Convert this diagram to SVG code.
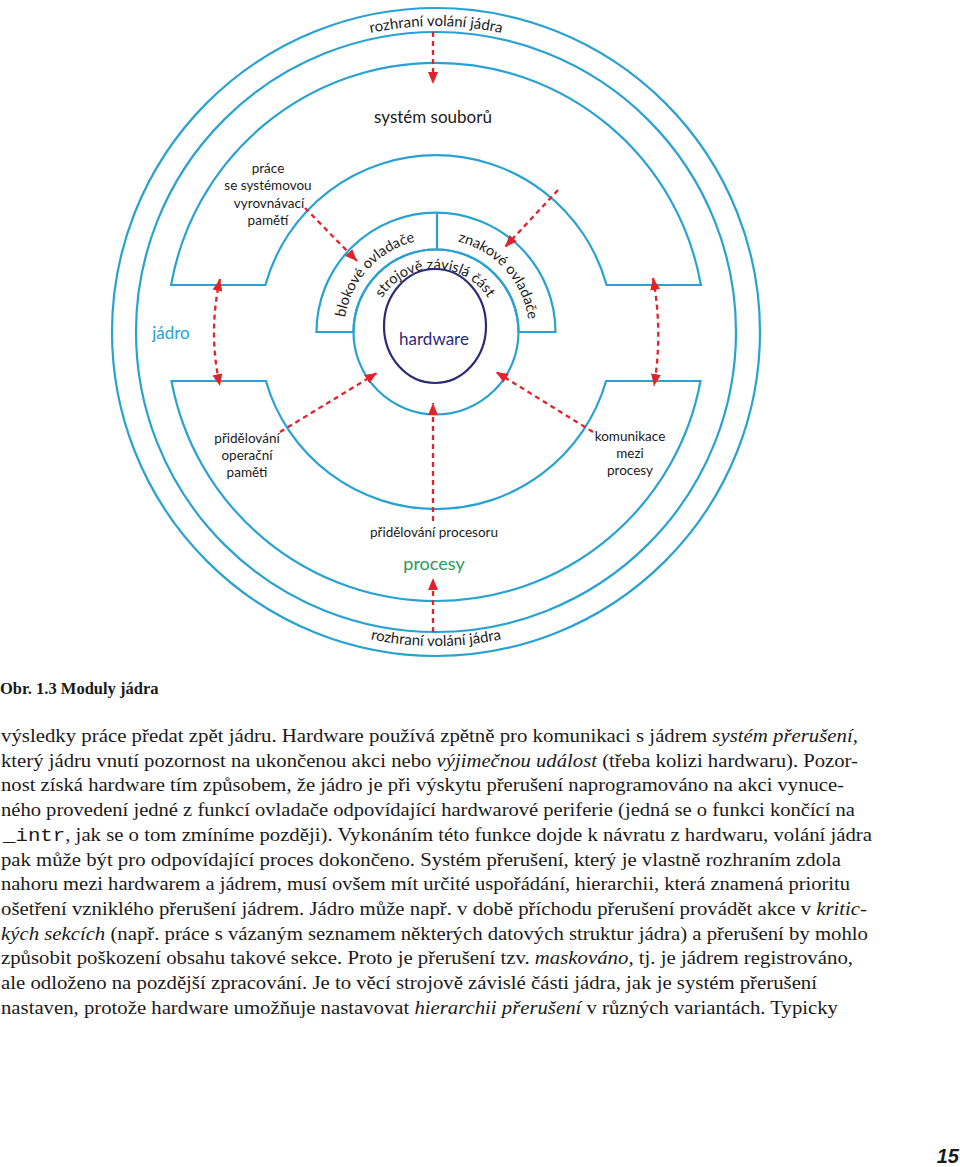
<svg xmlns="http://www.w3.org/2000/svg" width="960" height="1167" viewBox="0 0 960 1167">
<style>
.ring{fill:none;stroke:#27a2d3;stroke-width:2.2}
.lbl{font-family:Lato,"Open Sans","DejaVu Sans",sans-serif;fill:#1a1a1a;text-anchor:middle}
.sm{font-size:13.5px}
.arr{fill:none;stroke:#e3232c;stroke-width:2.3;stroke-dasharray:5 4;marker-end:url(#ah)}
.dbl{marker-start:url(#ah)}
.body{font-family:"Liberation Serif","Times New Roman",serif;font-size:19px;fill:#1a1a1a}
.it{font-style:italic}
.mono{font-family:"Liberation Mono","Courier New",monospace}
</style>
<defs>
<marker id="ah" viewBox="0 0 12 10" refX="12" refY="5" markerWidth="12" markerHeight="10" orient="auto-start-reverse" markerUnits="userSpaceOnUse">
<path d="M0,0 L12,5 L0,10 z" fill="#e3232c"/>
</marker>
<path id="pTop" d="M283,67 A306,306 0 0 1 589,67"/>
<path id="pBot" d="M279,604 A314,314 0 0 0 593,604"/>
<path id="pBlok" d="M344,332 A93,93 0 0 1 429.6,239.2"/>
<path id="pZnak" d="M445.6,239.5 A93,93 0 0 1 529,332"/>
<path id="pStroj" d="M372,332 A63,63 0 0 1 498,332"/>
</defs>
<rect width="960" height="1167" fill="#ffffff"/>

<g id="syscall-interface">
<circle class="ring" cx="436" cy="332" r="324"/>
<circle class="ring" cx="436" cy="332" r="300"/>
<text class="lbl" font-size="15"><textPath href="#pTop" startOffset="50%">rozhraní volání jádra</textPath></text>
<text class="lbl" font-size="15"><textPath href="#pBot" startOffset="50%">rozhraní volání jádra</textPath></text>
</g>

<g id="upper-ring">
<path class="ring" d="M171.1,285 A269,269 0 0 1 700.9,285 L606.6,285 A177,177 0 0 0 265.4,285 Z"/>
<text class="lbl" x="433" y="123" font-size="17">systém souborů</text>
<text class="lbl sm" x="268" y="173">práce</text>
<text class="lbl sm" x="268" y="190">se systémovou</text>
<text class="lbl sm" x="269" y="208">vyrovnávací</text>
<text class="lbl sm" x="268" y="225">pamětí</text>
</g>

<g id="jadro">
<text class="lbl" x="171" y="339" font-size="17" style="fill:#27a2d3">jádro</text>
</g>

<g id="lower-ring">
<path class="ring" d="M171.5,381 A269,269 0 0 0 700.5,381 L606.1,381 A177,177 0 0 1 265.9,381 Z"/>
<text class="lbl sm" x="247" y="443">přidělování</text>
<text class="lbl sm" x="247" y="460">operační</text>
<text class="lbl sm" x="247" y="477">paměti</text>
<text class="lbl sm" x="630" y="441">komunikace</text>
<text class="lbl sm" x="630" y="458">mezi</text>
<text class="lbl sm" x="630" y="475">procesy</text>
<text class="lbl sm" x="434" y="537">přidělování procesoru</text>
<text class="lbl" x="434" y="570" font-size="18" style="fill:#2a9a5c">procesy</text>
</g>

<g id="drivers">
<path class="ring" d="M316.5,332 A119.5,119.5 0 0 1 555.5,332 L518.5,332 A82.5,82.5 0 0 0 353.5,332 Z"/>
<line class="ring" x1="437" y1="212.5" x2="437" y2="249.5"/>
<text class="lbl" font-size="14.5"><textPath href="#pBlok" startOffset="50%">blokové ovladače</textPath></text>
<text class="lbl" font-size="14.5"><textPath href="#pZnak" startOffset="50%">znakové ovladače</textPath></text>
</g>

<g id="machine-dependent">
<circle class="ring" cx="436" cy="332" r="82.5"/>
<text class="lbl" font-size="14.5"><textPath href="#pStroj" startOffset="50%">strojově závislá část</textPath></text>
</g>

<g id="hardware">
<ellipse cx="435" cy="326" rx="51" ry="57" fill="none" stroke="#2b2b78" stroke-width="2.2"/>
<text class="lbl" x="434" y="345" font-size="17" style="fill:#2b2b78">hardware</text>
</g>

<g id="connectors">
<path class="arr" d="M433,32 L433,84"/>
<path class="arr" d="M305,208 L357,261"/>
<path class="arr" d="M558,190 L505,247"/>
<path class="arr dbl" d="M220,279 Q208,333 220,386"/>
<path class="arr dbl" d="M653,278 Q663,332 654,386"/>
<path class="arr" d="M280,432 L377,373"/>
<path class="arr" d="M593,432 L496,372"/>
<path class="arr" d="M433,521 L433,403"/>
<path class="arr" d="M433,632 L433,578"/>
</g>

<g id="caption">
<text x="0" y="694" font-family="'Liberation Serif','Times New Roman',serif" font-size="16.5" font-weight="bold" fill="#1a1a1a">Obr. 1.3 Moduly jádra</text>
</g>

<g id="paragraph">
<text class="body" x="1" y="742" textLength="857" lengthAdjust="spacingAndGlyphs">výsledky práce předat zpět jádru. Hardware používá zpětně pro komunikaci s jádrem <tspan class="it">systém přerušení</tspan>,</text>
<text class="body" x="1" y="766.7" textLength="857" lengthAdjust="spacingAndGlyphs">který jádru vnutí pozornost na ukončenou akci nebo <tspan class="it">výjimečnou událost</tspan> (třeba kolizi hardwaru). Pozor-</text>
<text class="body" x="1" y="791.4" textLength="843" lengthAdjust="spacingAndGlyphs">nost získá hardware tím způsobem, že jádro je při výskytu přerušení naprogramováno na akci vynuce-</text>
<text class="body" x="1" y="816.1" textLength="854" lengthAdjust="spacingAndGlyphs">ného provedení jedné z funkcí ovladače odpovídající hardwarové periferie (jedná se o funkci končící na</text>
<text class="body" x="3" y="840.8" textLength="869" lengthAdjust="spacingAndGlyphs"><tspan class="mono">_intr</tspan>, jak se o tom zmíníme později). Vykonáním této funkce dojde k návratu z hardwaru, volání jádra</text>
<text class="body" x="1" y="865.5" textLength="840" lengthAdjust="spacingAndGlyphs">pak může být pro odpovídající proces dokončeno. Systém přerušení, který je vlastně rozhraním zdola</text>
<text class="body" x="1" y="890.2" textLength="849" lengthAdjust="spacingAndGlyphs">nahoru mezi hardwarem a jádrem, musí ovšem mít určité uspořádání, hierarchii, která znamená prioritu</text>
<text class="body" x="1" y="914.9" textLength="866" lengthAdjust="spacingAndGlyphs">ošetření vzniklého přerušení jádrem. Jádro může např. v době příchodu přerušení provádět akce v <tspan class="it">kritic-</tspan></text>
<text class="body" x="1" y="939.6" textLength="867" lengthAdjust="spacingAndGlyphs"><tspan class="it">kých sekcích</tspan> (např. práce s vázaným seznamem některých datových struktur jádra) a přerušení by mohlo</text>
<text class="body" x="1" y="964.3" textLength="852" lengthAdjust="spacingAndGlyphs">způsobit poškození obsahu takové sekce. Proto je přerušení tzv. <tspan class="it">maskováno</tspan>, tj. je jádrem registrováno,</text>
<text class="body" x="1" y="989" textLength="816" lengthAdjust="spacingAndGlyphs">ale odloženo na pozdější zpracování. Je to věcí strojově závislé části jádra, jak je systém přerušení</text>
<text class="body" x="1" y="1013.7" textLength="837" lengthAdjust="spacingAndGlyphs">nastaven, protože hardware umožňuje nastavovat <tspan class="it">hierarchii přerušení</tspan> v různých variantách. Typicky</text>
</g>

<g id="page-number">
<text x="959" y="1163" text-anchor="end" font-family="'Liberation Sans',Arial,sans-serif" font-size="20" font-weight="bold" font-style="italic" fill="#1a1a1a">15</text>
</g>
</svg>
